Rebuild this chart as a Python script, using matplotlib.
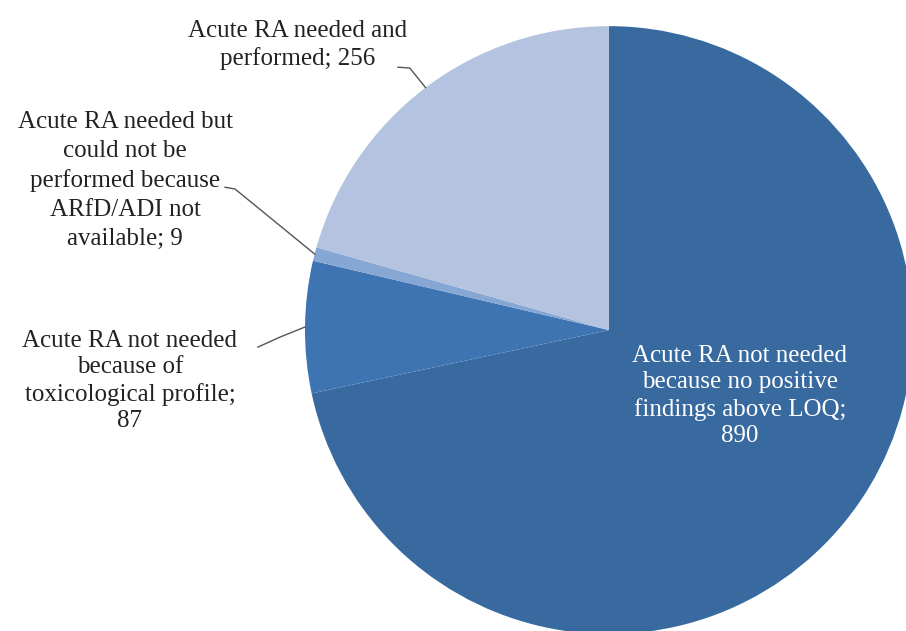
import matplotlib
matplotlib.use("Agg")
import matplotlib.pyplot as plt
import numpy as np

labels = ["Acute RA not needed\nbecause no positive\nfindings above LOQ;\n890",
          "Acute RA not needed\nbecause of\ntoxicological profile;\n87",
          "Acute RA needed but\ncould not be\nperformed because\nARfD/ADI not\navailable; 9",
          "Acute RA needed and\nperformed; 256"]
values = [890, 87, 9, 256]
colors = ["#386a9f", "#3f74b3", "#86a6d4", "#b4c3df"]

plt.rcParams["font.family"] = ["Liberation Serif", "DejaVu Serif"]

fig = plt.figure(figsize=(9.06, 6.31), dpi=100)
ax = fig.add_axes([0, 0, 1, 1])

wedges, _ = ax.pie(values, colors=colors, startangle=90, counterclock=False,
                   radius=1.0, wedgeprops=dict(linewidth=0))

ax.set_xlim(-2.003, 0.977)
ax.set_ylim(-0.990, 1.086)
ax.set_aspect("equal")
ax.axis("off")

# label centres and leader line starting points (data units)
text_pos = [(0.431, -0.217), (-1.576, -0.168), (-1.592, 0.493), (-1.023, 0.9375)]
spacing = [1.25, 1.25, 1.4, 1.3]
leader = [None,
          [(-1.155, -0.056), (-1.082, -0.023)],
          [(-1.263, 0.470), (-1.230, 0.464)],
          [(-0.694, 0.865), (-0.655, 0.862)]]

for i, w in enumerate(wedges):
    col = "white" if i == 0 else "#222222"
    ax.text(text_pos[i][0], text_pos[i][1], labels[i], ha="center", va="center",
            fontsize=18, color=col, linespacing=spacing[i])
    if leader[i] is not None:
        mid = np.deg2rad((w.theta1 + w.theta2) / 2)
        px = [p[0] for p in leader[i]] + [np.cos(mid)]
        py = [p[1] for p in leader[i]] + [np.sin(mid)]
        ax.plot(px, py, color="#555555", lw=1.0)

fig.savefig("out.png", dpi=100, facecolor="white")
